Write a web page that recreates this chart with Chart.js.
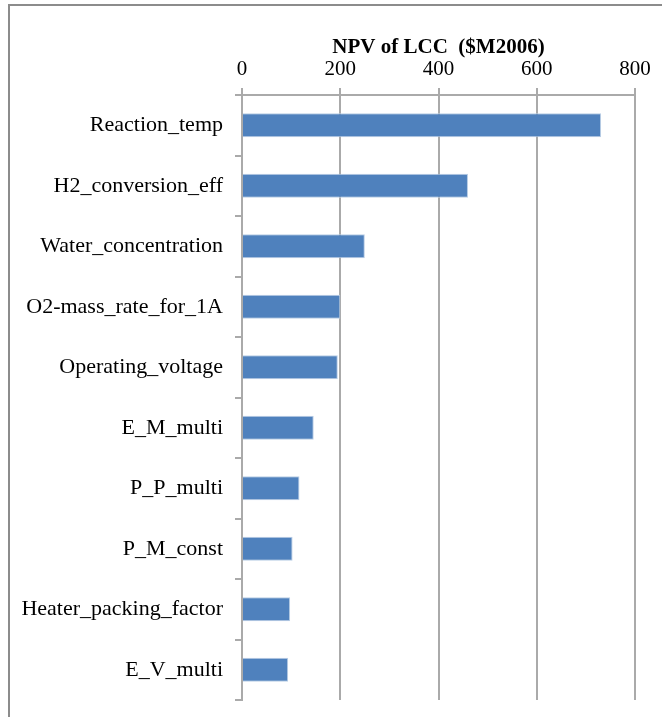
<!DOCTYPE html>
<html lang="en">
<head>
  <meta charset="UTF-8">
  <title>NPV of LCC sensitivity</title>
  <script src="https://cdn.jsdelivr.net/npm/chart.js"></script>
  <style>
    html, body { margin:0; padding:0; background:#fff; overflow:hidden; }
    .wrap { position:relative; width:662px; height:717px; }
    .frame {
      position:absolute; left:8px; top:4px; width:720px; height:760px;
      border:2px solid #8c8c8c; pointer-events:none;
    }
    canvas { position:absolute; left:0; top:0; }
  </style>
</head>
<body>
  <div class="wrap">
    <canvas id="npvChart" width="662" height="717"></canvas>
    <div class="frame"></div>
  </div>
  <script>
    // parameters, largest effect first
    const categories = [
      "Reaction_temp", "H2_conversion_eff", "Water_concentration", "O2-mass_rate_for_1A",
      "Operating_voltage", "E_M_multi", "P_P_multi", "P_M_const",
      "Heater_packing_factor", "E_V_multi"
    ];
    const npvValues = [731, 460, 250, 200, 195, 146, 117, 103, 98, 94];
    const axisTitle = "NPV of LCC  ($M2006)";
    const xTicks = [0, 200, 400, 600, 800];

    const gridGray = '#aaaaaa';
    const serif = "'Liberation Serif', 'Times New Roman', serif";

    new Chart(document.getElementById('npvChart').getContext('2d'), {
      type: 'bar',
      data: {
        labels: categories,
        datasets: [{
          data: npvValues,
          backgroundColor: '#4f81bd',
          borderColor: '#b9cde5',
          borderWidth: 1,
          categoryPercentage: 1,
          barPercentage: 0.4
        }]
      },
      options: {
        indexAxis: 'y',
        responsive: false,
        animation: false,
        layout: { padding: { left: 0, top: 0, right: 27, bottom: 17 } },
        plugins: { legend: { display: false }, tooltip: { enabled: false } },
        scales: {
          x: {
            position: 'top',
            min: xTicks[0],
            max: xTicks[xTicks.length - 1],
            afterBuildTicks: s => { s.ticks = xTicks.map(v => ({ value: v })); },
            afterFit: s => { s.height = 95; },
            ticks: { color: '#000', padding: 6, font: { family: serif, size: 21 } },
            grid: { color: gridGray, lineWidth: 2, tickLength: 7 },
            border: { color: gridGray, width: 2 },
            title: {
              display: true,
              text: axisTitle,
              color: '#000',
              padding: { top: 35, bottom: 0 },
              font: { family: serif, size: 21, weight: 'bold' }
            }
          },
          y: {
            // fixed label column; labels sit mid-category so no end padding is needed
            afterFit: s => { s.width = 242; s.paddingTop = 0; s.paddingBottom = 0; },
            ticks: { color: '#000', padding: 12, font: { family: serif, size: 22 } },
            grid: { color: gridGray, lineWidth: 2, tickLength: 7, drawOnChartArea: false, offset: true },
            border: { color: gridGray, width: 2 }
          }
        }
      }
    });
  </script>
</body>
</html>
